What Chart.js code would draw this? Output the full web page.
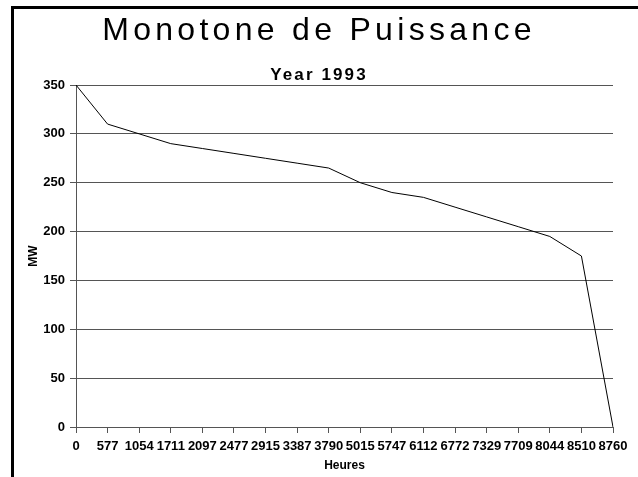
<!DOCTYPE html>
<html>
<head>
<meta charset="utf-8">
<script src="https://cdn.jsdelivr.net/npm/chart.js@4/dist/chart.umd.min.js"></script>
<style>
  html, body { margin: 0; padding: 0; background: #fff; }
  #wrap { position: relative; width: 638px; height: 477px; overflow: hidden; }
  #frame { position: absolute; left: 11px; top: 6px; right: -10px; bottom: -10px;
           border-left: 3px solid #000; border-top: 3px solid #000; }
  #c { position: absolute; left: 0; top: 0; }
</style>
</head>
<body>
<div id="wrap">
  <div id="frame"></div>
  <canvas id="c" width="638" height="477"></canvas>
</div>
<script>
const titleText = "Monotone de Puissance";
const subtitleText = "Year 1993";
const xTitle = "Heures";
const yTitle = "MW";
const hours = ["0","577","1054","1711","2097","2477","2915","3387","3790","5015","5747","6112","6772","7329","7709","8044","8510","8760"];
const power = [350, 310, 300, 290, 285, 280, 275, 270, 265, 250, 240, 235, 225, 215, 205, 195, 175, 0];
const yMin = 0, yMax = 350, yStep = 50;

const FONT = "'Liberation Sans', Arial, sans-serif";
Chart.defaults.font.family = FONT;
Chart.defaults.color = '#000';

// letter-spaced titles (as in the reference)
const spacingPlugin = {
  id: 'titleSpacing',
  afterLayout(chart) {
    chart.boxes.forEach(b => {
      if (!b || !b.options || b._spaced) return;
      let ls = null;
      if (b.options.text === titleText) ls = '4.3px';
      else if (b.options.text === subtitleText) ls = '2.1px';
      if (!ls) return;
      const orig = b.draw;
      b.draw = function(area) {
        const ctx = this.ctx;
        ctx.letterSpacing = ls;
        orig.call(this, area);
        ctx.letterSpacing = '0px';
      };
      b._spaced = true;
    });
  }
};

new Chart(document.getElementById('c'), {
  type: 'line',
  data: {
    labels: hours,
    datasets: [{
      data: power,
      borderColor: '#000',
      borderWidth: 1,
      pointRadius: 0,
      tension: 0,
      fill: false
    }]
  },
  plugins: [spacingPlugin],
  options: {
    responsive: false,
    animation: false,
    layout: { padding: 0 },
    plugins: {
      legend: { display: false },
      tooltip: { enabled: false },
      title: {
        display: true,
        text: titleText,
        font: { family: FONT, size: 32, weight: 'normal', lineHeight: 1 },
        color: '#000',
        padding: { top: 15, bottom: 0 }
      },
      subtitle: {
        display: true,
        text: subtitleText,
        font: { family: FONT, size: 17, weight: 'bold', lineHeight: 1 },
        color: '#000',
        padding: { top: 19.5, bottom: 1.5 }
      }
    },
    scales: {
      x: {
        type: 'category',
        offset: false,
        grid: { display: true, drawOnChartArea: false, drawTicks: true, tickLength: 6, color: '#555' },
        border: { display: true, color: '#555' },
        ticks: { autoSkip: false, maxRotation: 0, minRotation: 0, padding: 6,
                 font: { family: FONT, size: 13, weight: 'bold' }, color: '#000' },
        title: { display: true, text: xTitle, padding: { top: 0, bottom: 4 },
                 font: { family: FONT, size: 12, weight: 'bold' }, color: '#000' },
        afterFit: (s) => { s.height = 50; s.paddingRight = 25; }
      },
      y: {
        min: yMin, max: yMax,
        grid: { display: true, drawTicks: true, tickLength: 6, color: '#555' },
        border: { display: true, color: '#555' },
        ticks: { stepSize: yStep, padding: 5,
                 font: { family: FONT, size: 13, weight: 'bold' }, color: '#000' },
        title: { display: true, text: yTitle, padding: { top: 26, bottom: 0 },
                 font: { family: FONT, size: 12, weight: 'bold' }, color: '#000' },
        afterFit: (s) => { s.width = 76; }
      }
    }
  }
});
</script>
</body>
</html>
